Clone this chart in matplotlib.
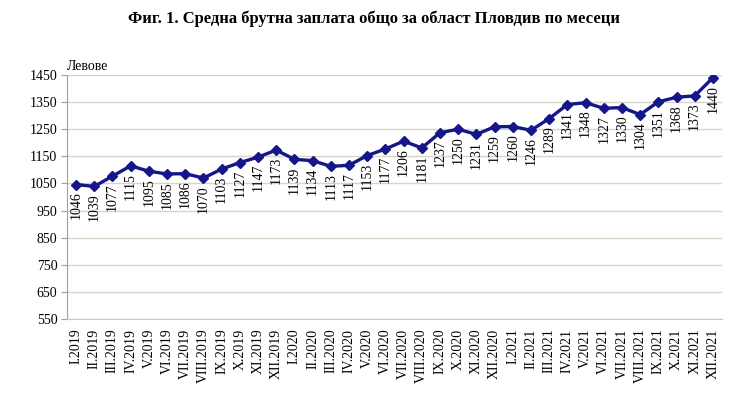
import matplotlib
matplotlib.use("Agg")
from matplotlib import pyplot as plt

plt.rcParams['font.family'] = ['Liberation Serif', 'DejaVu Serif']

months = ["I", "II", "III", "IV", "V", "VI", "VII", "VIII", "IX", "X", "XI", "XII"]
years = ["2019", "2020", "2021"]
labels = [m + "." + y for y in years for m in months]

wages = [1046, 1039, 1077, 1115, 1095, 1085, 1086, 1070, 1103, 1127, 1147, 1173,
         1139, 1134, 1113, 1117, 1153, 1177, 1206, 1181, 1237, 1250, 1231, 1259,
         1260, 1246, 1289, 1341, 1348, 1327, 1330, 1304, 1351, 1368, 1373, 1440]

y_ticks = list(range(550, 1451, 100))

fig = plt.figure(figsize=(7.49, 4.0), dpi=100)
ax = fig.add_axes([67 / 749, 81 / 400, 655 / 749, 244 / 400])

x = list(range(len(wages)))
ax.plot(x, wages, color="#14168a", linewidth=2.4, marker="D", markersize=5,
        zorder=3)

for xi, v in zip(x, wages):
    ax.annotate(str(v), (xi, v), xytext=(0, -5), textcoords="offset points",
                rotation=90, ha="center", va="top", fontsize=10)

ax.set_xlim(-0.5, len(wages) - 0.5)
ax.set_ylim(550, 1450)
ax.set_yticks(y_ticks)
ax.set_yticklabels([str(t) for t in y_ticks], fontsize=10)
ax.set_xticks(x)
ax.set_xticklabels(labels, rotation=90, fontsize=10)
ax.tick_params(axis="x", length=0, pad=7)
ax.tick_params(axis="y", length=4, color="#a0a0a0", pad=3)

ax.grid(axis="y", color="#d6d6c6", linewidth=1)
ax.set_axisbelow(True)
for s in ["top", "right"]:
    ax.spines[s].set_visible(False)
ax.spines["left"].set_color("#a0a0a0")
ax.spines["bottom"].set_color("#c8c8b8")

ax.text(0.0, 1.01, "Левове", transform=ax.transAxes, fontsize=10,
        ha="left", va="bottom")

fig.text(0.5, 0.953, "Фиг. 1. Средна брутна заплата общо за област Пловдив по месеци",
         ha="center", va="center", fontsize=12, fontweight="bold")

plt.savefig("out.png", dpi=100)
